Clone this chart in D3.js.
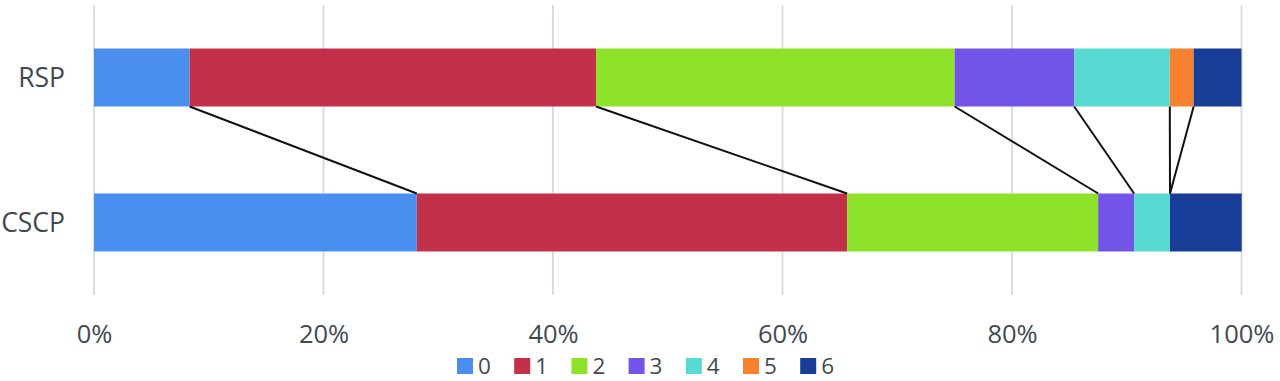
<!DOCTYPE html>
<html><head><meta charset="utf-8">
<script src="https://cdn.jsdelivr.net/npm/d3@7"></script>
<style>body{margin:0;background:#fff}svg{display:block}</style>
</head><body><svg id="chart" width="1280" height="381"></svg>
<script>
const groups = ["RSP", "CSCP"];
const categories = ["0", "1", "2", "3", "4", "5", "6"];
const rspValues = [8.33, 35.42, 31.25, 10.42, 8.33, 2.08, 4.17];
const cscpValues = [28.13, 37.5, 21.88, 3.13, 3.13, 0, 6.25];
const tickValues = [0, 20, 40, 60, 80, 100];
const colors = ["#4a8ff0", "#c3304a", "#8ee32a", "#7354e9", "#58dad3", "#f7812f", "#183d96"];

const series = [rspValues, cscpValues];
const svg = d3.select("#chart");
const x = d3.scaleLinear().domain([0, 100]).range([94, 1241.5]);
const y = d3.scaleBand().domain(groups).range([5, 295]).paddingInner(0.6).paddingOuter(0.3);
const color = d3.scaleOrdinal().domain(categories).range(colors);
const font = "'Open Sans', 'Noto Sans', sans-serif";
const textColor = "#3f4a50";

// grid
svg.append("g").selectAll("line").data(tickValues).join("line")
  .attr("x1", d => x(d)).attr("x2", d => x(d))
  .attr("y1", 5).attr("y2", 295)
  .attr("stroke", "#d9dee1").attr("stroke-width", 2);

// x axis labels
const xAxis = d3.axisBottom(x).tickValues(tickValues).tickFormat(d => d + "%").tickSize(0).tickPadding(0);
const ax = svg.append("g").attr("transform", "translate(0,319)").call(xAxis);
ax.select(".domain").remove();
ax.selectAll("text").attr("font-family", font).attr("font-size", 25.5).attr("fill", textColor).attr("dy", "0.95em");

// stacked bars
const stacked = series.map((vals, gi) => {
  let acc = 0;
  return vals.map((v, ci) => { const s = {g: groups[gi], c: categories[ci], x0: acc, x1: acc + v}; acc += v; return s; });
});
svg.append("g").selectAll("g").data(stacked).join("g")
  .selectAll("rect").data(d => d).join("rect")
  .attr("x", d => x(d.x0)).attr("width", d => Math.max(0, x(d.x1) - x(d.x0)))
  .attr("y", d => y(d.g)).attr("height", y.bandwidth())
  .attr("fill", d => color(d.c));

// connector lines between cumulative boundaries
const links = categories.slice(0, -1).map((c, i) => ({a: stacked[0][i].x1, b: stacked[1][i].x1}));
svg.append("g").selectAll("line").data(links).join("line")
  .attr("x1", d => x(d.a)).attr("y1", y("RSP") + y.bandwidth())
  .attr("x2", d => x(d.b)).attr("y2", y("CSCP"))
  .attr("stroke", "#111").attr("stroke-width", 2);

// category labels
svg.append("g").selectAll("text").data(groups).join("text")
  .attr("x", 65).attr("y", d => y(d) + y.bandwidth() / 2)
  .attr("dy", "0.35em").attr("text-anchor", "end")
  .attr("font-family", font).attr("font-size", 26.5).attr("fill", textColor)
  .text(d => d);

// legend
const lg = svg.append("g").selectAll("g").data(categories).join("g")
  .attr("transform", (d, i) => `translate(${457 + i * 57.2},358)`);
lg.append("rect").attr("width", 16).attr("height", 16).attr("fill", d => color(d));
lg.append("text").attr("x", 21).attr("y", 8).attr("dy", "0.36em")
  .attr("font-family", font).attr("font-size", 22.5).attr("fill", textColor).text(d => d);
</script></body></html>
